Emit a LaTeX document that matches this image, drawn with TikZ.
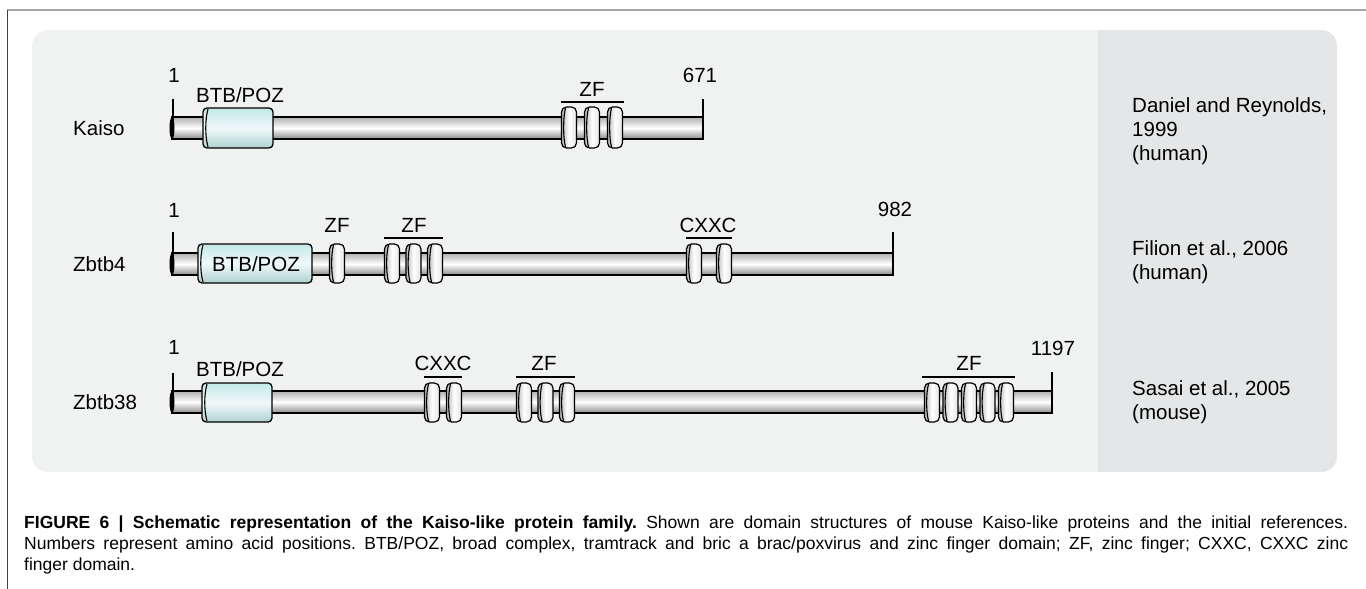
\documentclass[tikz,border=0pt]{standalone}
\usepackage{fontspec}
\setmainfont{Liberation Sans}
\usepackage{tikz}
\usetikzlibrary{positioning, calc}
\definecolor{panelgray}{RGB}{240,241,241}
\definecolor{refgray}{RGB}{228,230,231}
\definecolor{btbcyan}{RGB}{196,232,232}
\definecolor{barshade}{RGB}{175,175,175}
\definecolor{ringgray}{RGB}{228,228,228}

\tikzset{
  protbar/.style={draw=black, line width=1.3pt, top color=barshade,
                  bottom color=barshade!80!black, middle color=white},
  btbbox/.style={draw=black, line width=1.3pt, rounded corners=4pt,
                 top color=btbcyan, bottom color=btbcyan!90!black, middle color=btbcyan!25},
  zfring/.style={draw=black, line width=1.2pt, rounded corners=5pt,
                 left color=ringgray!80!black, right color=ringgray, middle color=white},
  lbl/.style={font=\fontsize{20.5}{24}\selectfont, inner sep=0pt},
  overline/.style={line width=1.3pt},
}

\begin{document}
\begin{tikzpicture}[x=1pt, y=-1pt]
\useasboundingbox (0,0) rectangle (1366,589);

%% frame and panels
\draw[gray!70, line width=1.5pt] (7,10) -- (1366,10);
\draw[black!75, line width=1pt] (7,10) -- (7,589);
\fill[panelgray, rounded corners=16pt] (32,30) rectangle (1337,472);
\begin{scope}
  \clip[rounded corners=16pt] (32,30) rectangle (1337,472);
  \fill[refgray] (1098,30) rectangle (1337,472);
\end{scope}

%% Kaiso (row at y=128)
\node[lbl, anchor=west] (kaiso) at (73,128) {Kaiso};
\draw[protbar] (172,117) rectangle (703,139);
\fill[black] (172,128) ellipse (2.5 and 11);
\draw[line width=1.3pt] (173,99) -- (173,128);
\draw[line width=1.3pt] (703,99) -- (703,139);
\node[lbl] (kaiso-start) at (174,75) {1};
\node[lbl] (kaiso-end) at (700,75) {671};
\draw[btbbox] (203,108) rectangle (273,148);
\draw[line width=1.1pt] (208,109) .. controls (205,120) and (205,136) .. (208,147);
\node[lbl] (kaiso-btb) at (240,95) {BTB/POZ};
\foreach \x in {569,592,615}{
  \draw[zfring] (\x-7.5,107) rectangle (\x+7.5,148);
  \draw[line width=1.1pt] (\x-3.5,108) .. controls (\x-6,118) and (\x-6,137) .. (\x-3.5,147);
}
\draw[overline] (561,102) -- (624,102);
\node[lbl] (kaiso-zf) at (592,89) {ZF};
\node[lbl, anchor=west, align=left] (kaiso-ref) at (1132,131)
  {Daniel and Reynolds,\\1999\\(human)};

%% Zbtb4 (row at y=264)
\node[lbl, anchor=west] (zbtb4) at (73,264) {Zbtb4};
\draw[protbar] (172,253) rectangle (893,275);
\fill[black] (172,264) ellipse (2.5 and 11);
\draw[line width=1.3pt] (173,232) -- (173,264);
\draw[line width=1.3pt] (893,232) -- (893,275);
\node[lbl] (zbtb4-start) at (174,210) {1};
\node[lbl] (zbtb4-end) at (895,209) {982};
\draw[btbbox] (198,244) rectangle (312,283);
\draw[line width=1.1pt] (203,245) .. controls (200,256) and (200,271) .. (203,282);
\node[lbl] (zbtb4-btb) at (256,264) {BTB/POZ};
\foreach \x in {337,392,413.5,435,694,724}{
  \draw[zfring] (\x-7.5,244) rectangle (\x+7.5,283);
  \draw[line width=1.1pt] (\x-3.5,245) .. controls (\x-6,255) and (\x-6,272) .. (\x-3.5,282);
}
\node[lbl] (zbtb4-zf1) at (337,225) {ZF};
\draw[overline] (384,238) -- (443,238);
\node[lbl] (zbtb4-zf2) at (414,225) {ZF};
\draw[overline] (686,238) -- (732,238);
\node[lbl] (zbtb4-cxxc) at (708,225) {CXXC};
\node[lbl, anchor=west, align=left] (zbtb4-ref) at (1132,262)
  {Filion et al., 2006\\(human)};

%% Zbtb38 (row at y=402)
\node[lbl, anchor=west] (zbtb38) at (73,402) {Zbtb38};
\draw[protbar] (172,391) rectangle (1052,413);
\fill[black] (172,402) ellipse (2.5 and 11);
\draw[line width=1.3pt] (173,373) -- (173,402);
\draw[line width=1.3pt] (1052,372) -- (1052,413);
\node[lbl] (zbtb38-start) at (174,347) {1};
\node[lbl] (zbtb38-end) at (1053,348) {1197};
\draw[btbbox] (202,383) rectangle (272,422);
\draw[line width=1.1pt] (207,384) .. controls (204,395) and (204,410) .. (207,421);
\node[lbl] (zbtb38-btb) at (240,369) {BTB/POZ};
\foreach \x in {432,454,524,545.5,567,932,950.5,969,987.5,1006}{
  \draw[zfring] (\x-7.5,383) rectangle (\x+7.5,422);
  \draw[line width=1.1pt] (\x-3.5,384) .. controls (\x-6,394) and (\x-6,411) .. (\x-3.5,421);
}
\draw[overline] (424,377) -- (462,377);
\node[lbl] (zbtb38-cxxc) at (443,363) {CXXC};
\draw[overline] (516,377) -- (575,377);
\node[lbl] (zbtb38-zf1) at (544,363) {ZF};
\draw[overline] (922,377) -- (1015,377);
\node[lbl] (zbtb38-zf2) at (969,363) {ZF};
\node[lbl, anchor=west, align=left] (zbtb38-ref) at (1132,402)
  {Sasai et al., 2005\\(mouse)};

%% caption
\node[anchor=north west, inner sep=0pt, text width=1324pt, align=justify,
      font=\fontsize{17.5}{21}\selectfont\frenchspacing] (caption) at (24,516)
  {\textbf{FIGURE 6 | Schematic representation of the Kaiso-like protein family.}
   Shown are domain structures of mouse Kaiso-like proteins and the initial references.\linebreak
   Numbers represent amino acid positions. BTB/POZ, broad complex, tramtrack and bric a
   brac/poxvirus and zinc finger domain; ZF, zinc finger; CXXC, CXXC zinc\linebreak
   finger domain.};
\end{tikzpicture}
\end{document}
